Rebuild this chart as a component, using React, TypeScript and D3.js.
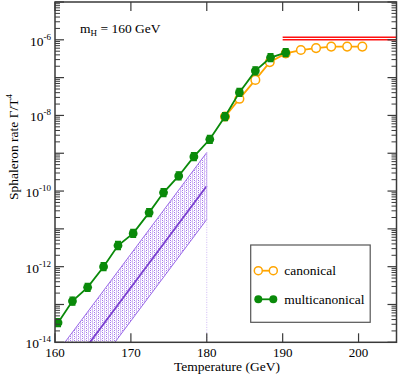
import React from "react";
import * as d3 from "d3";

const W = 399, H = 376;
const M = { left: 55, right: 396.5, top: 2, bottom: 342.3 };

// multicanonical (green)
const multiT = [160.4, 162.3, 164.3, 166.4, 168.3, 170.3, 172.4, 174.3, 176.3, 178.3, 180.4, 182.4, 184.3, 186.4, 188.4, 190.4];
const multiRate = [3.31e-14, 1.23e-13, 2.85e-13, 1.0e-12, 3.63e-12, 7.59e-12, 2.69e-11, 9.12e-11, 2.51e-10, 8.13e-10, 2.34e-9, 9.33e-9, 4.07e-8, 1.51e-7, 3.39e-7, 4.57e-7];

// canonical (orange)
const canonT = [182.4, 184.3, 186.4, 188.3, 190.4, 192.4, 194.4, 196.4, 198.5, 200.5];
const canonRate = [9.33e-9, 2.75e-8, 8.71e-8, 2.57e-7, 4.37e-7, 5.37e-7, 6.03e-7, 6.61e-7, 6.61e-7, 6.61e-7];

// red double line
const redT = [190, 205];
const redUpper = [1.17e-6, 1.17e-6];
const redLower = [1.0e-6, 1.0e-6];

// purple band
const bandT = [160, 180];
const bandCenter = [5.82e-16, 1.365e-10];
const bandUpper = [4.47e-15, 1.047e-9];
const bandLower = [7.59e-17, 1.78e-11];

const xTicks = [160, 170, 180, 190, 200];
const yLabelExps = [-14, -12, -10, -8, -6];

const FONT = "'Liberation Serif', 'Times New Roman', 'DejaVu Serif', serif";

export default function App() {
  const x = d3.scaleLinear().domain([160, 205]).range([M.left, M.right]);
  const y = d3.scaleLog().domain([1e-14, 1e-5]).range([M.bottom, M.top]);

  const line = (ts: number[], vs: number[]) =>
    d3.line<number>().x((_, i) => x(ts[i])).y((v) => y(v))(vs) || "";

  const bandArea =
    d3
      .area<number>()
      .x((t) => x(t))
      .y0((_, i) => y(bandLower[i]))
      .y1((_, i) => y(bandUpper[i]))(bandT) || "";

  const majorY: number[] = [];
  const minorY: number[] = [];
  for (let e = -14; e <= -5; e++) {
    majorY.push(Math.pow(10, e));
    if (e < -5) for (let k = 2; k <= 9; k++) minorY.push(k * Math.pow(10, e));
  }

  const axisColor = "#3a3a3a";
  const green = "#0a8a0a";
  const orange = "#ffa500";
  const purple = "#7a3fd0";

  return (
    <svg width={W} height={H} style={{ position: "absolute", left: 0, top: 0, fontFamily: FONT }}>
      <defs>
        <clipPath id="plotClip">
          <rect x={M.left} y={M.top} width={M.right - M.left} height={M.bottom - M.top} />
        </clipPath>
        <pattern id="bandPat" width="4" height="4" patternUnits="userSpaceOnUse">
          <rect x="0" y="0" width="4" height="4" fill="#ffffff" />
          <rect x="0" y="0" width="1" height="4" fill="#d4bdf6" />
          <rect x="2" y="0" width="1" height="1" fill="#a577ea" />
          <rect x="2" y="2" width="1" height="1" fill="#a577ea" />
          <rect x="3" y="1" width="1" height="1" fill="#e6d9fa" />
          <rect x="1" y="3" width="1" height="1" fill="#e6d9fa" />
        </pattern>
      </defs>
      <rect x={0} y={0} width={W} height={H} fill="#fff" />

      <g clipPath="url(#plotClip)">
        <path d={bandArea} fill="url(#bandPat)" stroke="none" />
        <path d={line(bandT, bandUpper)} fill="none" stroke="#9a6ae8" strokeWidth={1} />
        <path d={line(bandT, bandLower)} fill="none" stroke="#9a6ae8" strokeWidth={1} />
        <path d={line(bandT, bandCenter)} fill="none" stroke={purple} strokeWidth={1.8} />
        <line x1={x(180)} x2={x(180)} y1={y(bandUpper[1])} y2={y(bandLower[1])} stroke="#c8acf2" strokeWidth={1} />
        <line x1={x(180)} x2={x(180)} y1={y(bandLower[1])} y2={M.bottom} stroke="#c0a4f0" strokeWidth={0.8} strokeDasharray="1,1.5" />

        <path d={line(redT, redUpper)} fill="none" stroke="#ff1010" strokeWidth={1.5} />
        <path d={line(redT, redLower)} fill="none" stroke="#ff1010" strokeWidth={1.5} />

        <path d={line(canonT, canonRate)} fill="none" stroke={orange} strokeWidth={1.8} />
        {canonRate.map((v, i) => (
          <circle key={"c" + i} cx={x(canonT[i])} cy={y(v)} r={4.3} fill="#fff" stroke={orange} strokeWidth={1.5} />
        ))}

        <path d={line(multiT, multiRate)} fill="none" stroke={green} strokeWidth={1.8} />
        {multiRate.map((v, i) => {
          const cx = x(multiT[i]);
          const cy = y(v);
          return (
            <g key={"m" + i}>
              <circle cx={cx} cy={cy} r={4.4} fill={green} />
              <line x1={cx - 3} x2={cx + 3} y1={cy - 4} y2={cy - 4} stroke={green} strokeWidth={1.3} />
              <line x1={cx - 3} x2={cx + 3} y1={cy + 4} y2={cy + 4} stroke={green} strokeWidth={1.3} />
            </g>
          );
        })}
      </g>

      <rect x={M.left} y={M.top} width={M.right - M.left} height={M.bottom - M.top} fill="none" stroke={axisColor} strokeWidth={1.5} />

      {xTicks.map((t) => (
        <g key={"xt" + t}>
          <line x1={x(t)} x2={x(t)} y1={M.bottom} y2={M.bottom - 9} stroke={axisColor} strokeWidth={1.2} />
          <line x1={x(t)} x2={x(t)} y1={M.top} y2={M.top + 9} stroke={axisColor} strokeWidth={1.2} />
          <text x={x(t)} y={356.5} textAnchor="middle" fontSize={13} fill="#000">{t}</text>
        </g>
      ))}

      {majorY.map((v, i) => (
        <g key={"yM" + i}>
          <line x1={M.left} x2={M.left + 9} y1={y(v)} y2={y(v)} stroke={axisColor} strokeWidth={1.2} />
          <line x1={M.right} x2={M.right - 9} y1={y(v)} y2={y(v)} stroke={axisColor} strokeWidth={1.2} />
        </g>
      ))}
      {minorY.map((v, i) => (
        <g key={"ym" + i}>
          <line x1={M.left} x2={M.left + 5} y1={y(v)} y2={y(v)} stroke={axisColor} strokeWidth={1} />
          <line x1={M.right} x2={M.right - 5} y1={y(v)} y2={y(v)} stroke={axisColor} strokeWidth={1} />
        </g>
      ))}
      {yLabelExps.map((e) => (
        <text key={"yl" + e} x={51} y={y(Math.pow(10, e)) + 6} textAnchor="end" fontSize={13.5} fill="#000">
          10<tspan fontSize={9} dy={-6}>{e}</tspan>
        </text>
      ))}

      <text x={227} y={370.5} textAnchor="middle" fontSize={13.5} fill="#000">Temperature (GeV)</text>
      <text transform="translate(18,147) rotate(-90)" textAnchor="middle" fontSize={13.5} fill="#000">
        Sphaleron rate Γ/T<tspan fontSize={9} dy={-6}>4</tspan>
      </text>

      <text x={80} y={33} fontSize={13.5} fill="#000">
        m<tspan fontSize={9} dy={3}>H</tspan><tspan dy={-3}> = 160 GeV</tspan>
      </text>

      <rect x={250.7} y={245} width={119.5} height={77.3} fill="#fff" stroke="#555" strokeWidth={1.2} />
      <line x1={258.3} x2={273.3} y1={270.7} y2={270.7} stroke={orange} strokeWidth={1.8} />
      <circle cx={258.3} cy={270.7} r={4} fill="#fff" stroke={orange} strokeWidth={1.5} />
      <circle cx={273.3} cy={270.7} r={4} fill="#fff" stroke={orange} strokeWidth={1.5} />
      <text x={284.3} y={275} fontSize={13.5} fill="#000">canonical</text>
      <line x1={258.3} x2={273.3} y1={299.3} y2={299.3} stroke={green} strokeWidth={1.8} />
      <circle cx={258.3} cy={299.3} r={4} fill={green} />
      <circle cx={273.3} cy={299.3} r={4} fill={green} />
      <text x={284.3} y={303.6} fontSize={13.5} fill="#000">multicanonical</text>
    </svg>
  );
}
